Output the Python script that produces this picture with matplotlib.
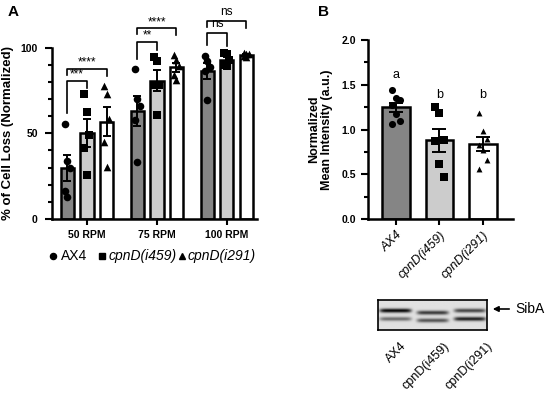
import numpy as np
import matplotlib
matplotlib.use("Agg")
import matplotlib.pyplot as plt
from matplotlib.lines import Line2D

plt.rcParams['font.family'] = ['Liberation Sans', 'DejaVu Sans']

# ---------------- data ----------------
speeds = ["50 RPM", "75 RPM", "100 RPM"]
strains = ["AX4", "cpnD(i459)", "cpnD(i291)"]

ax4_loss = [[55.6, 34, 30, 16.5, 13], [87.6, 70, 66, 58, 33.3], [95.3, 91.9, 88.6, 86.6, 69.2]]
i459_loss = [[72.7, 62.4, 49.2, 41.7, 25.8], [94.4, 92.4, 78, 77.9, 60.9], [97, 96, 93, 90, 89]]
i291_loss = [[77.5, 73, 58.5, 45, 30.4], [95.5, 93, 89, 84, 81], [97, 96.5, 96, 95, 94.5]]

sig_labels_A = [("***", "****"), ("**", "****"), ("ns", "ns")]

intensity_ax4 = [1.44, 1.35, 1.33, 1.27, 1.18, 1.10, 1.06]
intensity_i459 = [1.25, 1.19, 0.88, 0.87, 0.62, 0.47]
intensity_i291 = [1.19, 0.985, 0.90, 0.83, 0.77, 0.66, 0.56]
letters_B = ["a", "b", "b"]
blot_label = "SibA"

# ---------------- style ----------------
bar_colors = ["#858585", "#cccccc", "#ffffff"]
markers = ["o", "s", "^"]
lw = 1.8

def mean_sem(v):
    v = np.asarray(v, float)
    return v.mean(), v.std(ddof=1) / np.sqrt(len(v))

def jitter(n, w):
    return (np.arange(n) % 3 - 1) * w

fig = plt.figure(figsize=(5.5, 4.0), dpi=100)

# ---------------- Panel A ----------------
axA = fig.add_axes([0.094, 0.4525, 0.373, 0.4285])
groups = np.arange(len(speeds))
offs = [-0.28, 0.0, 0.28]
bw = 0.19
series = [ax4_loss, i459_loss, i291_loss]
for k, ser in enumerate(series):
    ms = [mean_sem(v) for v in ser]
    xs = groups + offs[k]
    axA.bar(xs, [m for m, s in ms], width=bw, color=bar_colors[k],
            edgecolor="black", linewidth=lw, zorder=2)
    axA.errorbar(xs, [m for m, s in ms], yerr=[s for m, s in ms], fmt="none",
                 ecolor="black", elinewidth=1.4, capsize=3, capthick=1.4, zorder=3)
    for g, v in enumerate(ser):
        axA.scatter(xs[g] + jitter(len(v), 0.035), v, marker=markers[k], s=30,
                    color="black", zorder=4, clip_on=False, linewidths=0)

# brackets
def bracket(ax, x1, x2, y, yl, yr, txt, fs=8.5):
    ax.plot([x1, x1, x2, x2], [yl, y, y, yr], color="black", lw=1.2,
            clip_on=False, zorder=5)
    ax.text((x1 + x2) / 2, y + (0.2 if txt != "ns" else 1.5), txt, ha="center",
            va="bottom", fontsize=fs, clip_on=False)

bracket_y = [(80.8, 87.6), (103.5, 111.2), (108.5, 115.7)]
for g in range(len(speeds)):
    x0, x1, x2 = g + offs[0], g + offs[1], g + offs[2]
    m0 = max(ax4_loss[g]); m1 = max(i459_loss[g])
    y_in, y_out = bracket_y[g]
    bracket(axA, x0, x1, y_in, m0 + 6, m1 + 4, sig_labels_A[g][0])
    bracket(axA, x0, x2, y_out, y_out - 3.5, y_out - 4, sig_labels_A[g][1])

axA.set_ylim(0, 100)
axA.set_xlim(-0.504, 2.43)
axA.set_yticks([0, 50, 100])
axA.set_yticks(np.arange(0, 101, 10), minor=True)
axA.set_xticks(groups)
axA.set_xticklabels(speeds, fontweight="bold", fontsize=7.5)
axA.tick_params(axis="x", length=4, width=1.5, pad=4)
axA.tick_params(axis="y", which="major", length=5, width=1.5, labelsize=7.5, pad=5)
axA.tick_params(axis="y", which="minor", length=3, width=1.5)
for t in axA.get_yticklabels():
    t.set_fontweight("bold")
for s in ["top", "right"]:
    axA.spines[s].set_visible(False)
for s in ["left", "bottom"]:
    axA.spines[s].set_linewidth(1.8)
axA.set_ylabel("% of Cell Loss (Normalized)", fontsize=9.5, fontweight="bold", labelpad=5)

# legend row
ly = 1 - 256 / 400
leg_items = [("o", 53, 4.4, 61, "AX4", "normal"),
             ("s", 102, 4.0, 109, strains[1], "italic"),
             ("^", 182, 4.2, 188, strains[2], "italic")]
for mk, mx, msz, tx, lab, sty in leg_items:
    fig.add_artist(Line2D([mx / 550], [ly], marker=mk, markersize=msz, color="black",
                          linestyle="none", transform=fig.transFigure))
    fig.text(tx / 550, ly, lab, fontsize=10, va="center", ha="left", style=sty)

fig.text(8 / 550, 1 - 12 / 400, "A", fontsize=11, fontweight="bold", va="center")
fig.text(318 / 550, 1 - 12 / 400, "B", fontsize=11, fontweight="bold", va="center")

# ---------------- Panel B ----------------
axB = fig.add_axes([0.6696, 0.4518, 0.2637, 0.4482])
dataB = [intensity_ax4, intensity_i459, intensity_i291]
xb = np.arange(3)
msB = [mean_sem(v) for v in dataB]
axB.bar(xb, [m for m, s in msB], width=0.64, color=bar_colors, edgecolor="black",
        linewidth=lw, zorder=2)
axB.errorbar(xb, [m for m, s in msB], yerr=[s for m, s in msB], fmt="none",
             ecolor="black", elinewidth=1.4, capsize=5, capthick=1.4, zorder=3)
for k, v in enumerate(dataB):
    axB.scatter(xb[k] + jitter(len(v), 0.1), v, marker=markers[k],
                s=[26, 26, 18][k], color="black", zorder=4, linewidths=0)
letter_y = [1.61, 1.385, 1.385]
for k in range(3):
    axB.text(xb[k], letter_y[k], letters_B[k], ha="center", va="center", fontsize=9)
axB.set_ylim(0, 2.0)
axB.set_xlim(-0.64, 2.70)
axB.set_yticks([0, 0.5, 1.0, 1.5, 2.0])
axB.set_yticks(np.arange(0, 2.01, 0.25), minor=True)
axB.set_yticklabels(["0.0", "0.5", "1.0", "1.5", "2.0"], fontweight="bold", fontsize=7.5)
axB.set_xticks(xb)
axB.set_xticklabels(strains, rotation=45, ha="right", rotation_mode="anchor",
                    fontsize=9, style="italic")
axB.tick_params(axis="x", length=4, width=1.5, pad=3)
axB.tick_params(axis="y", which="major", length=5, width=1.5, pad=4)
axB.tick_params(axis="y", which="minor", length=3, width=1.5)
for s in ["top", "right"]:
    axB.spines[s].set_visible(False)
for s in ["left", "bottom"]:
    axB.spines[s].set_linewidth(1.8)
axB.set_ylabel("Normalized\nMean Intensity (a.u.)", fontsize=9, fontweight="bold",
               labelpad=6, linespacing=1.1)

# ---------------- Western blot (illustrative) ----------------
axW = fig.add_axes([378 / 550, 1 - 330 / 400, 109 / 550, 30 / 400])
H, W = 60, 220
yy, xx = np.mgrid[0:H, 0:W]
img = np.full((H, W), 0.88)
lanes = [35, 110, 185]
up_int = [0.85, 0.65, 0.6]
lo_int = [0.45, 0.55, 0.75]
up_y = [22, 26, 22]
lo_y = [38, 41, 38]
for c, ui, li, uy, lyy in zip(lanes, up_int, lo_int, up_y, lo_y):
    lane = np.exp(-((xx - c) / 32.0) ** 8)
    img -= ui * lane * np.exp(-((yy - uy) / 4.0) ** 2)
    img -= li * lane * np.exp(-((yy - lyy) / 4.0) ** 2)
img = np.clip(img, 0, 1)
axW.imshow(img, cmap="gray", vmin=0, vmax=1, aspect="auto")
axW.set_xticks([]); axW.set_yticks([])
for s in axW.spines.values():
    s.set_linewidth(1.2)

fig.add_artist(matplotlib.patches.FancyArrowPatch(
    (512 / 550, 1 - 309 / 400), (490 / 550, 1 - 309 / 400),
    transform=fig.transFigure, arrowstyle="-|>", mutation_scale=8, lw=1.2, color="black"))
fig.text(515 / 550, 1 - 309 / 400, blot_label, fontsize=10, va="center", ha="left")

blot_anchor_x = [400, 443, 486]
for t, xa in zip(strains, blot_anchor_x):
    fig.text(xa / 550, 1 - 340 / 400, t, rotation=45, ha="right", va="top",
             rotation_mode="anchor", fontsize=9)

fig.savefig("out.png", dpi=100)
